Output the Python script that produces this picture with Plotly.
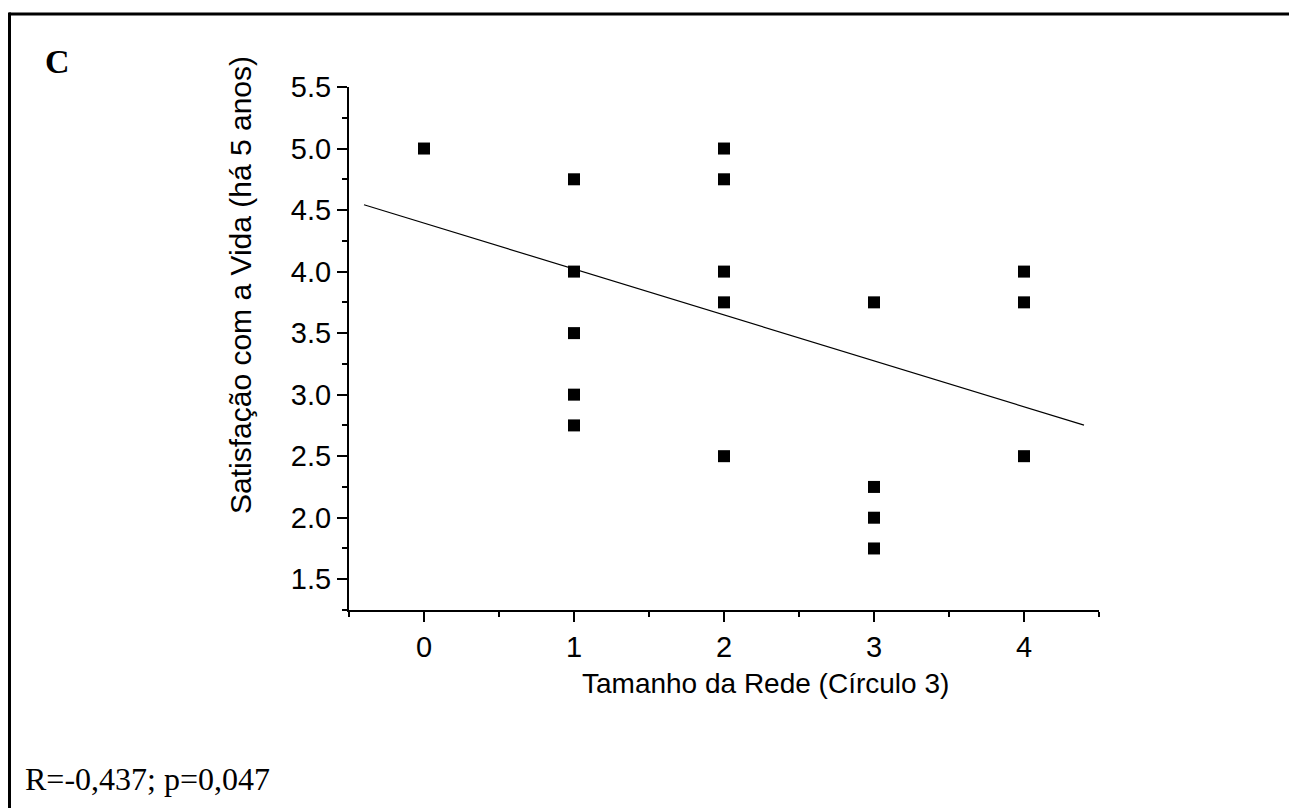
import plotly.graph_objects as go

# Data
network_size = [0, 1, 1, 1, 1, 1, 2, 2, 2, 2, 2, 3, 3, 3, 3, 4, 4, 4]
life_satisfaction = [5.0, 4.75, 4.0, 3.5, 3.0, 2.75,
                     5.0, 4.75, 4.0, 3.75, 2.5,
                     3.75, 2.25, 2.0, 1.75,
                     4.0, 3.75, 2.5]

# Regression line
fit_x = [-0.4, 4.4]
fit_intercept = 4.394
fit_slope = -0.373
fit_y = [fit_intercept + fit_slope * v for v in fit_x]

x_ticks = [0, 1, 2, 3, 4]
y_ticks = [1.5, 2.0, 2.5, 3.0, 3.5, 4.0, 4.5, 5.0, 5.5]
y_tick_text = [f"{v:.1f}" for v in y_ticks]

panel_label = "C"
stats_text = "R=-0,437; p=0,047"
x_title = "Tamanho da Rede (Círculo 3)"
y_title = "Satisfação com a Vida (há 5 anos)"

# page body has an 8px margin; work in window pixels and shift
OFF = 8
W, H = 1297 - OFF, 808 - OFF
L, T = 349 - OFF, 87 - OFF
PR, PB = 1099 - OFF, 610 - OFF  # plot right / bottom in figure px
R, B = W - PR, H - PB
pw, ph = PR - L, PB - T


def px_x(p):
    return (p - OFF - L) / pw


def px_y(p):
    return (PB - (p - OFF)) / ph


sans = "Arial, Liberation Sans, sans-serif"
serif = "Times New Roman, Liberation Serif, serif"

fig = go.Figure()
fig.add_trace(go.Scatter(
    x=fit_x, y=fit_y, mode="lines",
    line=dict(color="black", width=1.2), hoverinfo="skip", showlegend=False))
fig.add_trace(go.Scatter(
    x=network_size, y=life_satisfaction, mode="markers",
    marker=dict(symbol="square", size=12, color="black"),
    showlegend=False))

axis_common = dict(
    showgrid=False, zeroline=False, showline=True, linecolor="black",
    linewidth=2, ticks="outside", ticklen=10, tickwidth=2, tickcolor="black",
    tickfont=dict(family=sans, size=29, color="black"),
)

fig.update_xaxes(
    range=[-0.5, 4.5], tickvals=x_ticks, ticktext=[str(v) for v in x_ticks],
    minor=dict(dtick=0.5, tick0=-0.5, ticks="outside", ticklen=5, tickwidth=2,
               tickcolor="black"),
    **axis_common)
fig.update_yaxes(
    range=[1.25, 5.5], tickvals=y_ticks, ticktext=y_tick_text,
    minor=dict(dtick=0.25, tick0=1.25, ticks="outside", ticklen=5, tickwidth=2,
               tickcolor="black"),
    **axis_common)

annotations = [
    dict(text=x_title, x=px_x(765), y=px_y(683), xref="paper", yref="paper",
         showarrow=False, xanchor="center", yanchor="middle",
         font=dict(family=sans, size=28, color="black")),
    dict(text=y_title, x=px_x(240), y=px_y(285), xref="paper", yref="paper",
         showarrow=False, xanchor="center", yanchor="middle", textangle=-90,
         font=dict(family=sans, size=30, color="black")),
    dict(text="<b>" + panel_label + "</b>", x=px_x(43), y=px_y(62),
         xref="paper", yref="paper", showarrow=False,
         xanchor="left", yanchor="middle",
         font=dict(family=serif, size=34, color="black")),
    dict(text=stats_text, x=px_x(23), y=px_y(779), xref="paper", yref="paper",
         showarrow=False, xanchor="left", yanchor="middle",
         font=dict(family=serif, size=32, color="black")),
]

shapes = [
    dict(type="line", xref="paper", yref="paper",
         x0=px_x(9), x1=px_x(1310), y0=px_y(14), y1=px_y(14),
         line=dict(color="black", width=3)),
    dict(type="line", xref="paper", yref="paper",
         x0=px_x(9.5), x1=px_x(9.5), y0=px_y(12.5), y1=px_y(820),
         line=dict(color="black", width=3)),
]

fig.update_layout(
    width=W, height=H,
    margin=dict(l=L, r=R, t=T, b=B, pad=0),
    paper_bgcolor="white", plot_bgcolor="white",
    annotations=annotations, shapes=shapes,
    showlegend=False,
)

fig.write_html("out.html")
